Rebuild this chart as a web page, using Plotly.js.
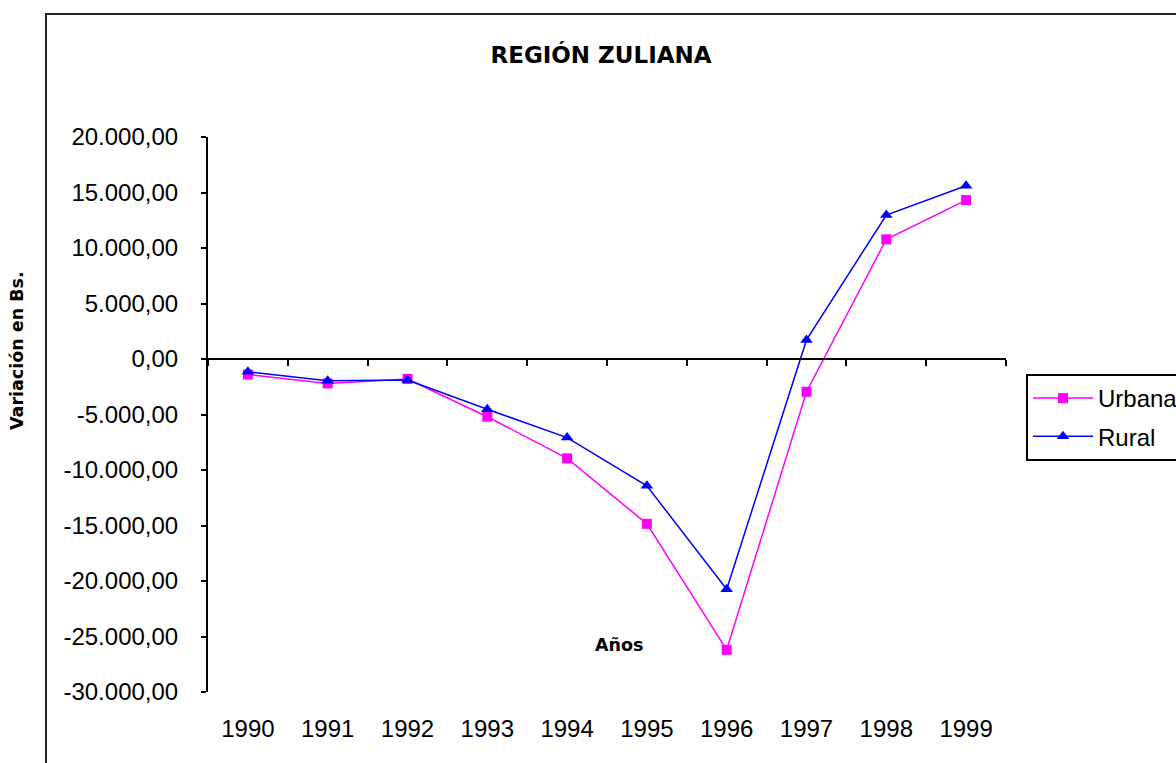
<!DOCTYPE html>
<html>
<head>
<meta charset="utf-8">
<script src="https://cdn.plot.ly/plotly-3.0.1.min.js"></script>
<style>html,body{margin:0;padding:0;background:#fff;}#chart{width:1176px;height:763px;}</style>
</head>
<body>
<div id="chart"></div>
<script>
const years = ['1990','1991','1992','1993','1994','1995','1996','1997','1998','1999'];
const urbana = [-1400, -2200, -1800, -5200, -8950, -14850, -26200, -2950, 10780, 14320];
const rural = [-1150, -1950, -1900, -4530, -7080, -11430, -20750, 1720, 12970, 15610];
const yTickVals = [20000, 15000, 10000, 5000, 0, -5000, -10000, -15000, -20000, -25000, -30000];
const yTickText = ['20.000,00','15.000,00','10.000,00','5.000,00','0,00','-5.000,00','-10.000,00','-15.000,00','-20.000,00','-25.000,00','-30.000,00'];

const tickFont = {family: 'Liberation Sans, Arial, sans-serif', size: 24, color: '#000'};
const boldFont = {family: 'DejaVu Sans, Verdana, sans-serif', size: 17.5, color: '#000', weight: 'bold'};

const traces = [
  {x: years, y: urbana, name: 'Urbana', type: 'scatter', mode: 'lines+markers',
   line: {color: '#FF00FF', width: 1.5}, marker: {symbol: 'square', size: 10, color: '#FF00FF'},
   legendgroup: 'u'},
  {x: years, y: rural, name: 'Rural', type: 'scatter', mode: 'lines+markers',
   line: {color: '#0000FF', width: 1.5}, marker: {symbol: 'triangle-up', size: 11, color: '#0000FF'},
   legendgroup: 'r'},
  {x: [], y: [], xaxis: 'x2', type: 'scatter', showlegend: false, hoverinfo: 'skip'}
];

const layout = {
  width: 1176, height: 763, autosize: false,
  margin: {l: 208, r: 170, t: 137, b: 71, pad: 0},
  paper_bgcolor: '#fff', plot_bgcolor: '#fff',
  showlegend: true,
  title: {text: 'REGIÓN ZULIANA', font: {family: 'DejaVu Sans, Verdana, sans-serif', size: 23, color: '#000', weight: 'bold'},
          xref: 'container', x: 601/1176, xanchor: 'center', yref: 'container', y: 1 - 55/763, yanchor: 'middle'},
  xaxis: {type: 'category', range: [-0.5, 9.5], showline: false, ticks: '', showgrid: false, zeroline: false,
          tickfont: tickFont, ticklabelstandoff: 20, fixedrange: true},
  xaxis2: {overlaying: 'x', anchor: 'free', position: 0.6, range: [-0.5, 9.5], tickmode: 'linear', tick0: -0.5, dtick: 1,
           showticklabels: false, ticks: 'outside', ticklen: 6, tickwidth: 2, tickcolor: '#000',
           showline: true, linecolor: '#000', linewidth: 2, showgrid: false, zeroline: false, side: 'bottom'},
  yaxis: {range: [-30000, 20000], tickmode: 'array', tickvals: yTickVals, ticktext: yTickText,
          ticks: 'outside', ticklen: 5, tickwidth: 2, tickcolor: '#000', showline: true, linecolor: '#000', linewidth: 2,
          showgrid: false, zeroline: false, tickfont: tickFont, ticklabelstandoff: 18},
  legend: {x: 1026/1176, xanchor: 'left', y: 1 - 374/763, yanchor: 'top', xref: 'container', yref: 'container',
           bordercolor: '#000', borderwidth: 2, bgcolor: '#fff', font: tickFont, traceorder: 'grouped', tracegroupgap: 4,
           itemwidth: 60},
  annotations: [
    {text: 'Años', xref: 'paper', yref: 'paper', x: (619-208)/798, y: (692-645)/555, xanchor: 'center', yanchor: 'middle',
     showarrow: false, font: boldFont},
    {text: 'Variación en Bs.', xref: 'paper', yref: 'paper', x: (17-208)/798, y: (692-351)/555, xanchor: 'center', yanchor: 'middle',
     textangle: -90, showarrow: false, font: boldFont}
  ],
  shapes: [
    {type: 'rect', xref: 'paper', yref: 'paper', x0: (46-208)/798, x1: 1.6, y0: -0.5, y1: (692-14)/555,
     line: {color: '#222', width: 2}, fillcolor: 'rgba(0,0,0,0)', layer: 'below'}
  ]
};

Plotly.newPlot('chart', traces, layout, {staticPlot: true});
</script>
</body>
</html>
